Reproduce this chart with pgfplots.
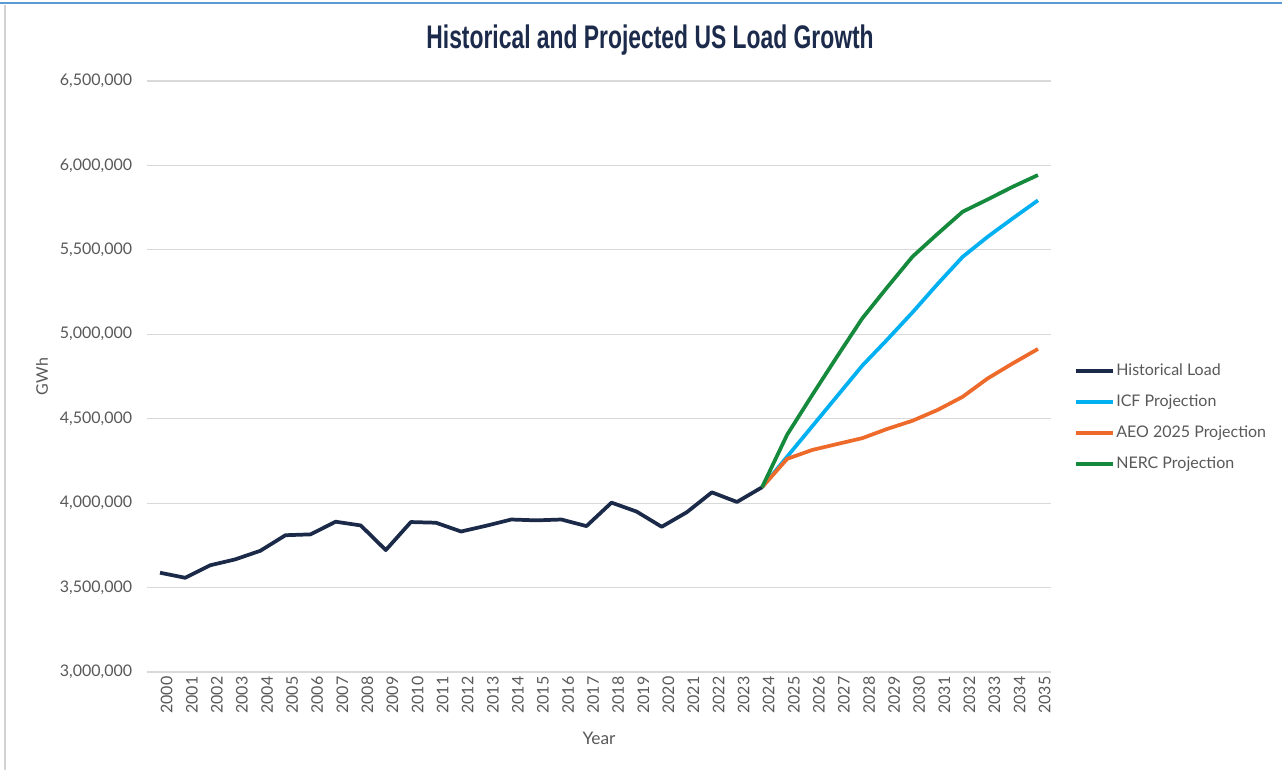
\documentclass[border=0pt]{standalone}
\usepackage{fontspec}
\setmainfont{Lato}
\newfontfamily\titlefont{Liberation Sans}
\usepackage{graphicx}
\usepackage{pgfplots}
\pgfplotsset{compat=1.18}
\definecolor{histc}{HTML}{1B2A49}
\definecolor{icfc}{HTML}{00B0F0}
\definecolor{aeoc}{HTML}{EE6A2B}
\definecolor{nercc}{HTML}{158A3C}
\definecolor{gridc}{HTML}{D9D9D9}
\definecolor{textc}{HTML}{595959}
\definecolor{titlec}{HTML}{1C2B4B}
\definecolor{topblue}{HTML}{5B9BD5}
\begin{document}
\begin{tikzpicture}
\useasboundingbox (-110.625pt,-73.5pt) rectangle (850.875pt,504pt);
\fill[white] (-110.625pt,-73.5pt) rectangle (850.875pt,504pt);
\draw[topblue, line width=1.5pt] (-110.625pt,501.75pt) -- (850.875pt,501.75pt);
\draw[gray!35, line width=0.9pt] (-106.9pt,-73.5pt) -- (-106.9pt,500.5pt);
\node[anchor=base, text=titlec, font={\titlefont\bfseries\fontsize{24.5}{28}\selectfont}] at (376.9pt,467.8pt) {\scalebox{0.70}[1]{Historical and Projected US Load Growth}};
\begin{axis}[
  at={(0pt,0pt)}, anchor=south west,
  scale only axis, width=677.25pt, height=443.25pt,
  xmin=1999.5, xmax=2035.5, ymin=3000000, ymax=6500000,
  xtick={2000,2001,...,2035},
  ytick={3000000,3500000,...,6500000},
  scaled y ticks=false,
  axis line style={draw=none},
  major tick length=0pt,
  ymajorgrids, grid style={gridc, line width=0.9pt},
  /pgf/number format/assume math mode=true,
  yticklabel style={/pgf/number format/fixed, /pgf/number format/1000 sep={,}, font=\fontsize{12}{14}\selectfont, text=textc, xshift=-8pt},
  xticklabel style={/pgf/number format/1000 sep={}, rotate=90, anchor=east, font=\fontsize{12}{14}\selectfont, text=textc, yshift=-5pt},
  xlabel={Year}, ylabel={GWh},
  xlabel style={at={(axis description cs:0.5,-0.1117)}, anchor=center, font=\fontsize{13}{15}\selectfont, text=textc},
  ylabel style={at={(axis description cs:-0.1168,0.5)}, anchor=center, rotate=0, font=\fontsize{12}{14}\selectfont, text=textc},
  legend style={at={(axis description cs:1.026,0.4306)}, anchor=west, draw=none, fill=none, inner sep=0pt,
    font=\fontsize{12}{14}\selectfont, text=textc, row sep=11.75pt,
    nodes={inner xsep=1pt, inner ysep=0pt, text height=9pt, text depth=2.5pt}},
  legend cell align=left,
  legend image code/.code={\draw[#1, line width=2.8pt] (0pt,0pt) -- (27.75pt,0pt);},
  every axis plot/.append style={line width=2.8pt, line join=round, mark=none},
  clip=false
]
\addplot[histc] coordinates {
(2000,3588000) (2001,3558000) (2002,3632000) (2003,3667000) (2004,3718000)
(2005,3810000) (2006,3815000) (2007,3890000) (2008,3868000) (2009,3722000)
(2010,3888000) (2011,3884000) (2012,3832000) (2013,3866000) (2014,3903000)
(2015,3898000) (2016,3903000) (2017,3864000) (2018,4003000) (2019,3950000)
(2020,3860000) (2021,3946000) (2022,4064000) (2023,4007000) (2024,4094000)};
\addlegendentry{Historical Load}
\addplot[icfc] coordinates {
(2024,4094000) (2025,4275000) (2026,4455000) (2027,4635000) (2028,4815000)
(2029,4970000) (2030,5130000) (2031,5298000) (2032,5459000) (2033,5578000)
(2034,5687000) (2035,5793000)};
\addlegendentry{ICF Projection}
\addplot[aeoc] coordinates {
(2024,4094000) (2025,4262000) (2026,4315000) (2027,4350000) (2028,4385000)
(2029,4440000) (2030,4488000) (2031,4552000) (2032,4630000) (2033,4739000)
(2034,4828000) (2035,4913000)};
\addlegendentry{AEO 2025 Projection}
\addplot[nercc] coordinates {
(2024,4094000) (2025,4405000) (2026,4640000) (2027,4870000) (2028,5095000)
(2029,5280000) (2030,5460000) (2031,5595000) (2032,5726000) (2033,5799000)
(2034,5874000) (2035,5943000)};
\addlegendentry{NERC Projection}
\end{axis}
\end{tikzpicture}
\end{document}
